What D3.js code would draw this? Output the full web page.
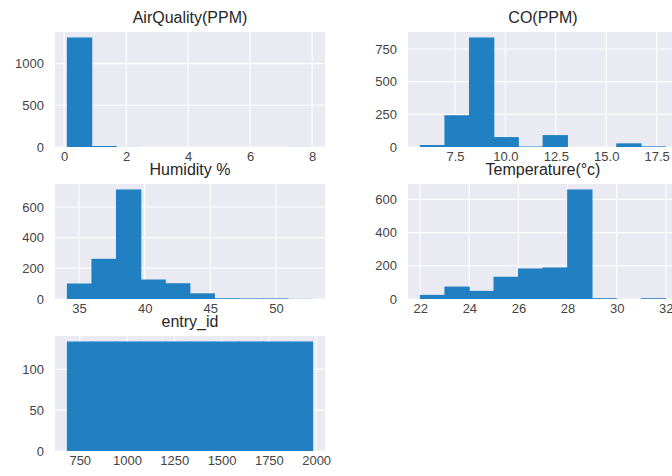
<!DOCTYPE html>
<html>
<head>
<meta charset="utf-8">
<script src="https://cdn.jsdelivr.net/npm/d3@7"></script>
<style>
  html, body { margin: 0; padding: 0; background: #ffffff; }
  svg { display: block; }
</style>
</head>
<body>
<svg id="chart" width="672" height="476"></svg>
<script>
// ---- data (10 bins each) ----
const titles = ["AirQuality(PPM)", "CO(PPM)", "Humidity %", "Temperature(°c)", "entry_id"];

const airQualityRange = [0.1, 8.02];
const airQualityCounts = [1314, 12, 1, 0, 0, 0, 0, 0, 0, 1];
const airQualityXTicks = [0, 2, 4, 6, 8];
const airQualityYTicks = [0, 500, 1000];

const coRange = [5.78, 17.95];
const coCounts = [15, 243, 838, 76, 4, 91, 0, 0, 28, 5];
const coXTicks = [7.5, 10.0, 12.5, 15.0, 17.5];
const coYTicks = [0, 250, 500, 750];

const humidityRange = [34.1, 52.8];
const humidityCounts = [101, 262, 714, 127, 103, 37, 5, 4, 4, 1];
const humidityXTicks = [35, 40, 45, 50];
const humidityYTicks = [0, 200, 400, 600];

const temperatureRange = [22, 32];
const temperatureCounts = [25, 75, 49, 134, 184, 190, 660, 5, 0, 5];
const temperatureXTicks = [22, 24, 26, 28, 30, 32];
const temperatureYTicks = [0, 200, 400, 600];

const entryIdRange = [684, 1982];
const entryIdCounts = [134, 134, 134, 134, 134, 134, 134, 134, 134, 134];
const entryIdXTicks = [750, 1000, 1250, 1500, 1750, 2000];
const entryIdYTicks = [0, 50, 100];

const panels = [
  { title: titles[0], range: airQualityRange, counts: airQualityCounts, xTicks: airQualityXTicks, yTicks: airQualityYTicks, fmt: d3.format("d"), row: 0, col: 0 },
  { title: titles[1], range: coRange, counts: coCounts, xTicks: coXTicks, yTicks: coYTicks, fmt: d3.format(".1f"), row: 0, col: 1 },
  { title: titles[2], range: humidityRange, counts: humidityCounts, xTicks: humidityXTicks, yTicks: humidityYTicks, fmt: d3.format("d"), row: 1, col: 0 },
  { title: titles[3], range: temperatureRange, counts: temperatureCounts, xTicks: temperatureXTicks, yTicks: temperatureYTicks, fmt: d3.format("d"), row: 1, col: 1 },
  { title: titles[4], range: entryIdRange, counts: entryIdCounts, xTicks: entryIdXTicks, yTicks: entryIdYTicks, fmt: d3.format("d"), row: 2, col: 0 }
];

// ---- layout ----
const colX = [[55, 325], [408, 678]];
const rowY = [[32, 147], [184, 299], [336, 451]];

const svg = d3.select("#chart");
const font = "'Liberation Sans', Arial, sans-serif";
const barColor = "#2180c2";
const bgColor = "#eaeaf2";
const textColor = "#444444";

panels.forEach(p => {
  const [x0, x1] = colX[p.col];
  const [y0, y1] = rowY[p.row];
  const [mn, mx] = p.range;
  const R = mx - mn;
  const nb = p.counts.length;
  const bw = R / nb;
  const bins = p.counts.map((c, i) => ({ a: mn + i * bw, b: mn + (i + 1) * bw, c }));
  const maxC = d3.max(p.counts);

  const x = d3.scaleLinear().domain([mn - 0.05 * R, mx + 0.05 * R]).range([x0, x1]);
  const y = d3.scaleLinear().domain([0, maxC * 1.05]).range([y1, y0]);

  const g = svg.append("g");

  g.append("rect")
    .attr("x", x0).attr("y", y0)
    .attr("width", x1 - x0).attr("height", y1 - y0)
    .attr("fill", bgColor);

  // grid lines
  g.selectAll(".vg").data(p.xTicks).enter().append("line")
    .attr("x1", d => x(d)).attr("x2", d => x(d))
    .attr("y1", y0).attr("y2", y1)
    .attr("stroke", "#ffffff").attr("stroke-width", 1.1);
  g.selectAll(".hg").data(p.yTicks).enter().append("line")
    .attr("x1", x0).attr("x2", x1)
    .attr("y1", d => y(d)).attr("y2", d => y(d))
    .attr("stroke", "#ffffff").attr("stroke-width", 1.1);

  // bars (slight overlap so adjacent bins merge without seams)
  g.selectAll(".bar").data(bins.filter(d => d.c > 0)).enter().append("rect")
    .attr("x", d => x(d.a) - 0.4)
    .attr("width", d => x(d.b) - x(d.a) + 0.8)
    .attr("y", d => y(d.c))
    .attr("height", d => y(0) - y(d.c))
    .attr("fill", barColor);

  // axes (labels only, no lines/ticks)
  const xAxis = d3.axisBottom(x).tickValues(p.xTicks).tickFormat(p.fmt).tickSize(0).tickPadding(5);
  const ax = g.append("g").attr("transform", `translate(0,${y1})`).call(xAxis);
  const yAxis = d3.axisLeft(y).tickValues(p.yTicks).tickFormat(d3.format("d")).tickSize(0).tickPadding(11);
  const ay = g.append("g").attr("transform", `translate(${x0},0)`).call(yAxis);
  [ax, ay].forEach(a => {
    a.select(".domain").remove();
    a.selectAll("text").attr("font-family", font).attr("font-size", 13).attr("fill", textColor);
  });

  // title
  g.append("text")
    .attr("x", (colX[p.col][0] + (p.col === 1 ? 678 : 325)) / 2)
    .attr("y", y0 - 9)
    .attr("text-anchor", "middle")
    .attr("font-family", font)
    .attr("font-size", 16)
    .attr("fill", "#262626")
    .text(p.title);
});
</script>
</body>
</html>
